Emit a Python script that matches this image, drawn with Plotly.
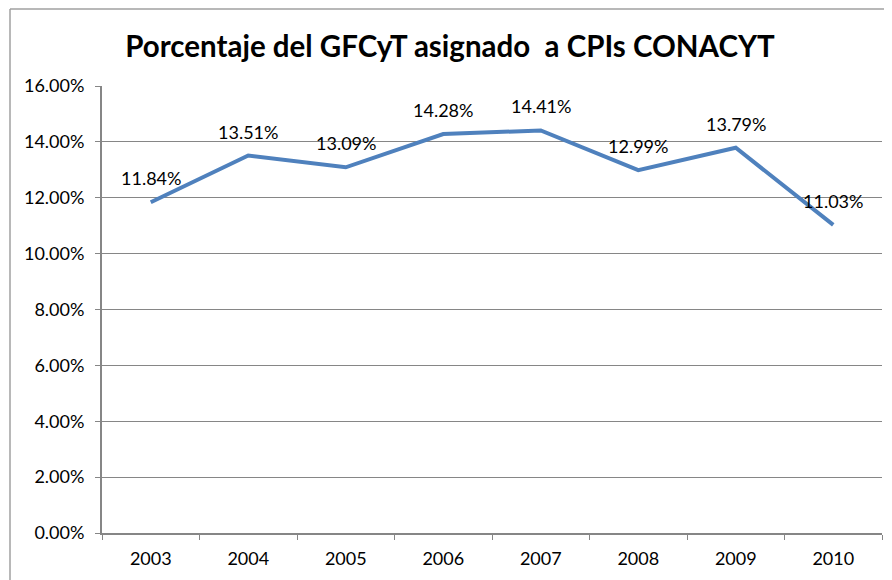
import plotly.graph_objects as go

years = ["2003", "2004", "2005", "2006", "2007", "2008", "2009", "2010"]
values = [11.84, 13.51, 13.09, 14.28, 14.41, 12.99, 13.79, 11.03]
labels = ["11.84%", "13.51%", "13.09%", "14.28%", "14.41%", "12.99%", "13.79%", "11.03%"]
y_ticks = [0, 2, 4, 6, 8, 10, 12, 14, 16]
y_tick_text = ["0.00%", "2.00%", "4.00%", "6.00%", "8.00%", "10.00%", "12.00%", "14.00%", "16.00%"]

FONT = "Lato, Open Sans, sans-serif"

W, H = 884, 572
ML, MR, MT, MB = 94, 10, 78, 47
PW, PH = W - ML - MR, H - MT - MB

fig = go.Figure()
fig.add_trace(go.Scatter(
    x=list(range(len(years))), y=values, mode="lines",
    line=dict(color="#4F81BD", width=4), hoverinfo="skip", showlegend=False,
))

for i, (v, t) in enumerate(zip(values, labels)):
    fig.add_annotation(x=i, y=v, text=t, showarrow=False, yshift=24,
                       font=dict(family=FONT, size=18, color="#000000"))

fig.update_layout(
    width=W, height=H,
    margin=dict(l=ML, r=MR, t=MT, b=MB),
    paper_bgcolor="white", plot_bgcolor="white",
    title=dict(text="<b>Porcentaje del GFCyT asignado  a CPIs CONACYT</b>",
               x=0.5, xanchor="center", y=1 - 39 / H, yanchor="middle",
               font=dict(family=FONT, size=29.5, color="#000000")),
    font=dict(family=FONT, size=18, color="#000000"),
)

fig.update_xaxes(
    range=[-0.5, len(years) - 0.5],
    tickmode="array", tickvals=list(range(len(years))), ticktext=years,
    showgrid=False, showline=True, linecolor="#868686", linewidth=2,
    ticks="", zeroline=False, fixedrange=True, ticklabelstandoff=8,
)
fig.update_xaxes(minor=dict(tickvals=[i - 0.5 for i in range(len(years) + 1)],
                            ticks="outside", ticklen=5, tickcolor="#868686", tickwidth=1,
                            showgrid=False))

fig.update_yaxes(
    range=[0, 16], tickmode="array", tickvals=y_ticks, ticktext=y_tick_text,
    showgrid=True, gridcolor="#868686", gridwidth=1,
    showline=True, linecolor="#868686", linewidth=2,
    ticks="outside", ticklen=5, tickcolor="#868686",
    zeroline=False, fixedrange=True, ticklabelstandoff=7,
)

# outer chart border (left and top edges visible)
bx = (2 - ML) / PW
by = 1 + (MT - 1) / PH
fig.add_shape(type="line", xref="paper", yref="paper",
              x0=bx, x1=1 + MR / PW, y0=by, y1=by,
              line=dict(color="#A0A0A0", width=1.5))
fig.add_shape(type="line", xref="paper", yref="paper",
              x0=bx, x1=bx, y0=-MB / PH, y1=by,
              line=dict(color="#A0A0A0", width=1.5))

fig.write_html("out.html")
